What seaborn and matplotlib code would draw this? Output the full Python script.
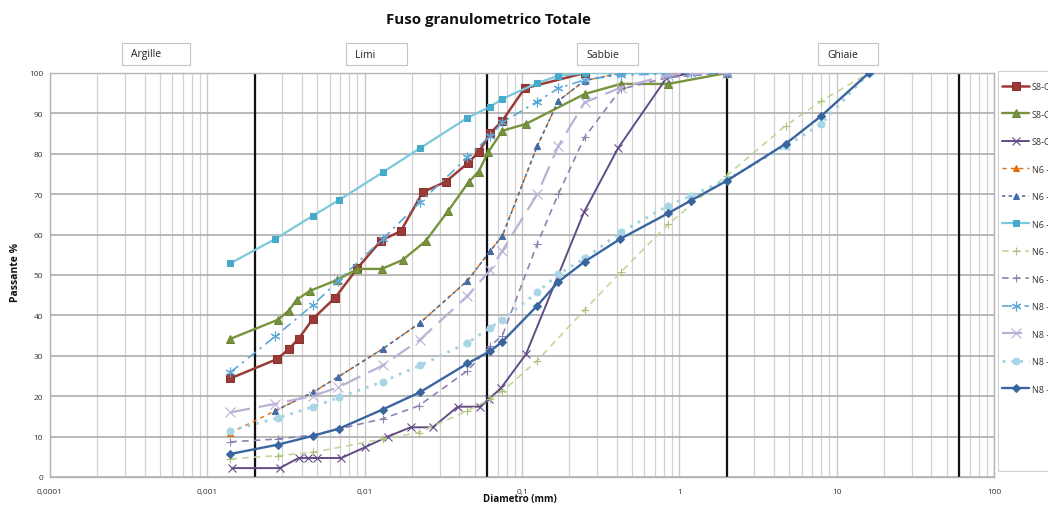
import numpy as np
import pandas as pd
import matplotlib
matplotlib.use("Agg")
import matplotlib.pyplot as plt
from matplotlib.patches import Rectangle
from matplotlib.ticker import FixedLocator, LogLocator, NullFormatter
import seaborn as sns

# ---------------- data ----------------
title = "Fuso granulometrico Totale"
zone_names = ["Argille", "Limi", "Sabbie", "Ghiaie"]
zone_limits = [0.002, 0.06, 2, 60]
x_ticks = [0.0001, 0.001, 0.01, 0.1, 1, 10, 100]
x_tick_labels = ["0,0001", "0,001", "0,01", "0,1", "1", "10", "100"]
y_ticks = [0, 10, 20, 30, 40, 50, 60, 70, 80, 90, 100]

s8a_d = [0.0014, 0.00278, 0.0033, 0.0038, 0.0047, 0.0065, 0.009, 0.0127, 0.017, 0.0234, 0.0328, 0.0453, 0.053, 0.063, 0.075, 0.104, 0.25]
s8a_p = [24.4, 29.2, 31.7, 34.2, 39.2, 44.4, 51.7, 58.5, 60.9, 70.5, 73.1, 77.7, 80.4, 85.1, 88.2, 96.2, 100]

s8b_d = [0.0014, 0.0028, 0.0033, 0.0037, 0.0045, 0.0067, 0.009, 0.0128, 0.0174, 0.0244, 0.034, 0.046, 0.053, 0.061, 0.075, 0.106, 0.25, 0.425, 0.85, 2]
s8b_p = [34.2, 38.9, 41.2, 43.9, 46.1, 48.8, 51.5, 51.5, 53.7, 58.4, 65.9, 73.1, 75.6, 80.4, 85.7, 87.4, 94.8, 97.3, 97.3, 100]

s8c_d = [0.00144, 0.00288, 0.0038, 0.00434, 0.005, 0.0071, 0.0101, 0.014, 0.0196, 0.0271, 0.039, 0.054, 0.0616, 0.0735, 0.106, 0.248, 0.408, 0.826, 1.18, 2]
s8c_p = [2.2, 2.2, 4.7, 4.7, 4.7, 4.7, 7.4, 10.0, 12.3, 12.3, 17.4, 17.4, 19.3, 22.0, 30.4, 65.6, 81.4, 98.7, 100, 100]

n6a_d = [0.0014, 0.0027, 0.0047, 0.0068, 0.013, 0.0224, 0.045, 0.063, 0.075, 0.125, 0.17, 0.25, 0.425, 0.85, 2]
n6a_p = [10.9, 16.4, 21.0, 24.8, 31.7, 38.1, 48.6, 56.0, 59.7, 81.9, 93.1, 98.1, 100, 100, 100]

n6b_d = [0.0027, 0.0047, 0.0068, 0.013, 0.0224, 0.045, 0.063, 0.075, 0.125, 0.17, 0.25, 0.425, 0.85, 2]
n6b_p = [16.4, 21.0, 24.8, 31.7, 38.1, 48.6, 56.0, 59.7, 81.9, 93.1, 98.1, 100, 100, 100]

n6c_d = [0.0014, 0.0027, 0.0047, 0.0069, 0.013, 0.0225, 0.045, 0.063, 0.075, 0.125, 0.17, 0.25, 0.425, 0.85]
n6c_p = [52.9, 58.9, 64.7, 68.6, 75.4, 81.4, 88.9, 91.7, 93.6, 97.5, 99.3, 100, 100, 100]

n6d_d = [0.0014, 0.0028, 0.0047, 0.013, 0.022, 0.045, 0.063, 0.075, 0.125, 0.25, 0.425, 0.85, 2, 4.75, 8, 16]
n6d_p = [4.5, 5.3, 6.1, 9.4, 11.0, 16.4, 19.3, 21.2, 28.8, 41.4, 50.7, 62.6, 74.6, 87.0, 93.1, 100]

n6e_d = [0.0014, 0.0028, 0.0047, 0.013, 0.022, 0.045, 0.063, 0.075, 0.125, 0.17, 0.25, 0.425, 0.85, 2]
n6e_p = [8.7, 9.4, 10.4, 14.4, 17.6, 26.3, 32.5, 35.0, 57.7, 70.0, 84.1, 96.0, 98.9, 100]

n8a_d = [0.0014, 0.0027, 0.0047, 0.0068, 0.013, 0.0225, 0.045, 0.063, 0.075, 0.125, 0.17, 0.25, 0.425, 0.85, 1.18, 2]
n8a_p = [25.9, 34.8, 42.6, 48.6, 58.9, 68.0, 79.1, 84.5, 87.8, 92.9, 96.2, 98.3, 99.5, 99.8, 100, 100]

n8b_d = [0.0014, 0.0027, 0.0047, 0.0068, 0.013, 0.0225, 0.045, 0.063, 0.075, 0.125, 0.17, 0.25, 0.425, 0.85, 1.18, 2]
n8b_p = [16.0, 18.1, 20.1, 22.2, 27.6, 34.0, 44.8, 51.3, 56.0, 70.0, 81.9, 92.7, 96.4, 99.5, 100, 100]

n8c_d = [0.0014, 0.0028, 0.0047, 0.0069, 0.013, 0.0225, 0.045, 0.063, 0.075, 0.125, 0.17, 0.25, 0.425, 0.85, 1.18, 2, 4.75, 8, 16]
n8c_p = [11.5, 14.6, 17.4, 19.7, 23.6, 27.6, 33.2, 37.0, 38.9, 45.7, 50.2, 54.1, 60.6, 67.2, 69.6, 73.6, 81.9, 87.4, 100]

n8d_d = [0.0014, 0.0028, 0.0047, 0.0069, 0.013, 0.0225, 0.045, 0.063, 0.075, 0.125, 0.17, 0.25, 0.42, 0.85, 1.18, 2, 4.75, 8, 16]
n8d_p = [5.7, 8.0, 10.2, 12.0, 16.7, 21.0, 28.1, 31.2, 33.5, 42.4, 48.3, 53.3, 58.9, 65.3, 68.4, 73.3, 82.5, 89.4, 100]

labels = ["S8-C1", "S8-C2", "S8-C3", "N6 - C1", "N6 - C2", "N6 - C3",
          "N6 - C4", "N6 - C5", "N8 - C1", "N8 - C2", "N8 - C3", "N8 - C4"]

series = [
    (s8a_d, s8a_p, dict(color="#9B3B38", linestyle="-", lw=1.8, marker="s", ms=5.5, mfc="#9B3B38", mec="#8A3230")),
    (s8b_d, s8b_p, dict(color="#77933C", linestyle="-", lw=1.7, marker="^", ms=6, mfc="#77933C", mec="#6A8535")),
    (s8c_d, s8c_p, dict(color="#634C85", linestyle="-", lw=1.4, marker="x", ms=6, mfc="#634C85", mec="#634C85", mew=0.8)),
    (n6a_d, n6a_p, dict(color="#E46C0A", linestyle=(0, (3, 3)), lw=1.0, marker="^", ms=4.5, mfc="#E46C0A", mec="#E46C0A")),
    (n6b_d, n6b_p, dict(color="#50709E", linestyle=(0, (2, 2)), lw=1.2, marker="^", ms=5, mfc="#3F6DAE", mec="#3F6DAE")),
    (n6c_d, n6c_p, dict(color="#7CC8DC", linestyle="-", lw=1.6, marker="s", ms=5, mfc="#45ABCB", mec="#45ABCB")),
    (n6d_d, n6d_p, dict(color="#C3D69B", linestyle=(0, (4, 3)), lw=1.2, marker="+", ms=6, mfc="#A9C47A", mec="#A9C47A", mew=0.8)),
    (n6e_d, n6e_p, dict(color="#8D84B3", linestyle=(0, (4, 3)), lw=1.2, marker="+", ms=6, mfc="#8D84B3", mec="#8D84B3", mew=0.8)),
    (n8a_d, n8a_p, dict(color="#5DA8D6", linestyle=(0, (6, 3, 1.5, 3)), lw=1.2, marker=(6, 2, 0), ms=7, mfc="#5DA8D6", mec="#5DA8D6", mew=0.8)),
    (n8b_d, n8b_p, dict(color="#BBB0D5", linestyle=(0, (9, 4)), lw=1.6, marker="x", ms=7, mfc="#BBB0D5", mec="#BBB0D5", mew=0.8)),
    (n8c_d, n8c_p, dict(color="#9FD2E3", linestyle=(0, (1, 2.2)), lw=2.0, marker="o", ms=5, mfc="#A8D6E6", mec="#A8D6E6")),
    (n8d_d, n8d_p, dict(color="#3A66A0", linestyle="-", lw=1.7, marker="D", ms=4.5, mfc="#3A66A0", mec="#3A66A0")),
]

# ---------------- figure ----------------
sns.set_theme(style="white")
plt.rcParams["font.family"] = ["Open Sans", "DejaVu Sans"]

W, H = 1048, 506
fig = plt.figure(figsize=(W / 100, H / 100), dpi=100)
ax = fig.add_axes([50 / W, 1 - 478 / H, (994 - 50) / W, (478 - 74) / H])
ax.set_xscale("log")
ax.set_xlim(1e-4, 100)
ax.set_ylim(0, 100)

for (d, p, st), lab in zip(series, labels):
    df = pd.DataFrame({"d": d, "p": p})
    sns.lineplot(data=df, x="d", y="p", ax=ax, estimator=None, sort=False,
                 label=lab, zorder=3, **st)

# grid
ax.xaxis.set_major_locator(FixedLocator(x_ticks))
ax.xaxis.set_minor_locator(LogLocator(base=10, subs=np.arange(2, 10), numticks=100))
ax.xaxis.set_minor_formatter(NullFormatter())
ax.set_xticklabels(x_tick_labels)
ax.set_yticks(y_ticks)
ax.grid(which="major", axis="y", color="#B4B4B4", lw=1.3, zorder=0)
ax.grid(which="major", axis="x", color="#C8C8C8", lw=1.0, zorder=0)
ax.grid(which="minor", axis="x", color="#D2D2D2", lw=0.9, zorder=0)
ax.set_axisbelow(True)
for sp in ax.spines.values():
    sp.set_color("#B4B4B4")
    sp.set_linewidth(1.0)
ax.tick_params(axis="both", which="both", length=0, labelsize=6, colors="#333333")
ax.tick_params(axis="x", pad=8)
ax.tick_params(axis="y", pad=5)

for xl in zone_limits:
    ax.axvline(xl, color="#111111", lw=1.6, zorder=2)

ax.set_xlabel("")
ax.set_ylabel("")
if ax.get_legend() is not None:
    ax.get_legend().remove()

# titles and labels
fig.text(488 / W, 1 - 20 / H, title, ha="center", va="center",
         fontsize=10.8, fontweight="bold", color="#111111")
fig.text(15 / W, 1 - 272 / H, "Passante %", rotation=90, ha="center", va="center",
         fontsize=7.5, fontweight="bold", color="#111111")
fig.text(520 / W, 1 - 500 / H, "Diametro (mm)", ha="center", va="center",
         fontsize=7, fontweight="bold", color="#111111")

# zone boxes
boxes = [(122, 190), (346, 407), (577, 638), (818, 878)]
for name, (x0, x1) in zip(zone_names, boxes):
    fig.patches.append(Rectangle((x0 / W, 1 - 66 / H), (x1 - x0) / W, 22 / H,
                                 transform=fig.transFigure, fc="white",
                                 ec="#C4C4C4", lw=0.8))
    fig.text((x0 + 9) / W, 1 - 55 / H, name, ha="left", va="center",
             fontsize=7.5, color="#222222")

# legend box and legend
fig.patches.append(Rectangle((998 / W, 1 - 472 / H), 70 / W, 400 / H,
                             transform=fig.transFigure, fc="white",
                             ec="#D0D0D0", lw=0.8))
handles, labs = ax.get_legend_handles_labels()
leg = fig.legend(handles, labs, loc="upper left",
                 bbox_to_anchor=(1002 / W, 1 - 83 / H), frameon=False,
                 fontsize=6.5, handlelength=3.0, handletextpad=0.3,
                 labelspacing=2.05, borderpad=0, borderaxespad=0)
for t in leg.get_texts():
    t.set_color("#333333")

fig.savefig("out.png", dpi=100)
